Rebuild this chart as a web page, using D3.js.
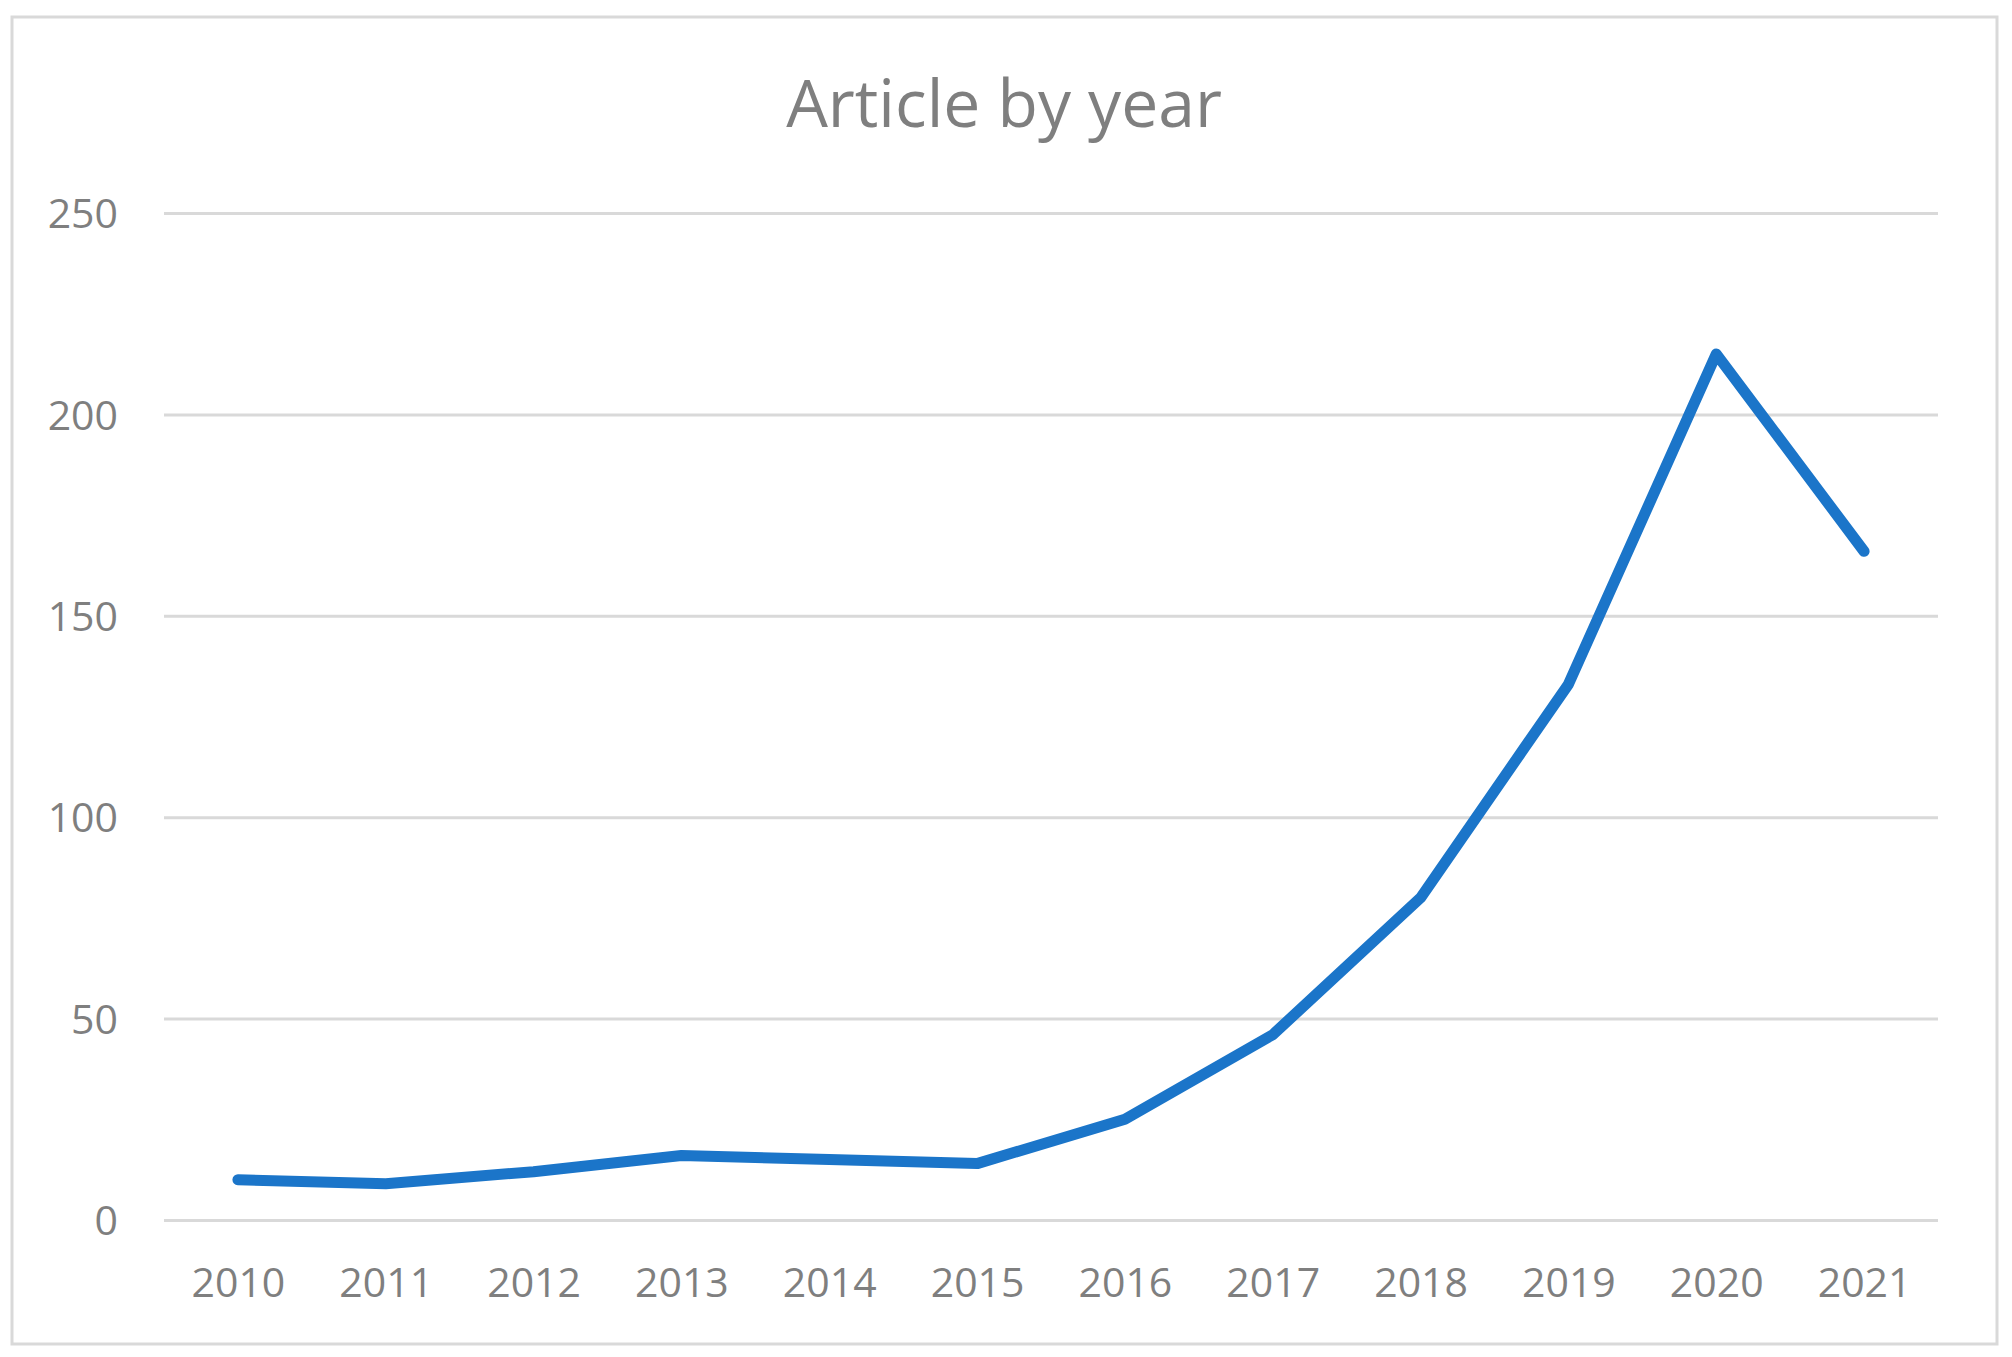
<!DOCTYPE html>
<html lang="en">
<head>
    <title>Article by year</title>
    <script src="https://d3js.org/d3.v7.min.js" charset="utf-8"></script>
    <style>
    body {
        margin: 0;
        background: #fff;
    }
    text {
        font-family: "Open Sans", "Noto Sans", sans-serif;
        fill: #7f7f7f;
    }
    .grid line {
        stroke: #d9d9d9;
        stroke-width: 3;
    }
    </style>
</head>
<body>
    <script>

    // data
    var years = ["2010", "2011", "2012", "2013", "2014", "2015",
                 "2016", "2017", "2018", "2019", "2020", "2021"];
    var articles = [10, 9, 12, 16, 15, 14, 25, 46, 80, 133, 215, 166];
    var yTicks = [0, 50, 100, 150, 200, 250];
    var title = "Article by year";

    var width = 2012,
        height = 1357;

    var margin = {left: 164, right: 74, top: 213, bottom: 137};
    var plotW = width - margin.left - margin.right,
        plotH = height - margin.top - margin.bottom;

    var svg = d3.select("body")
        .append("svg")
        .attr("width", width)
        .attr("height", height);

    // outer frame
    svg.append("rect")
        .attr("x", 12)
        .attr("y", 17)
        .attr("width", 1985)
        .attr("height", 1327)
        .attr("fill", "#fff")
        .attr("stroke", "#d9d9d9")
        .attr("stroke-width", 3);

    svg.append("text")
        .attr("x", 1004)
        .attr("y", 127)
        .attr("text-anchor", "middle")
        .style("font-size", "66px")
        .text(title);

    var g = svg.append("g")
        .attr("transform", "translate(" + margin.left + "," + margin.top + ")");

    var x = d3.scalePoint()
        .domain(years)
        .range([0, plotW])
        .padding(0.5);

    var y = d3.scaleLinear()
        .domain([0, 250])
        .range([plotH, 0]);

    // gridlines + y labels
    var yAxis = g.append("g")
        .attr("class", "grid")
        .call(d3.axisLeft(y)
            .tickValues(yTicks)
            .tickSize(-plotW)
            .tickPadding(46));
    yAxis.select(".domain").remove();
    yAxis.selectAll("text")
        .attr("dy", "0.36em")
        .style("font-size", "41px")
        .attr("fill", "#7f7f7f");

    // x labels
    var xAxis = g.append("g")
        .attr("transform", "translate(0," + plotH + ")")
        .call(d3.axisBottom(x).tickSize(0));
    xAxis.select(".domain").remove();
    xAxis.selectAll("text")
        .attr("y", 77)
        .attr("dy", null)
        .style("font-size", "41px")
        .attr("fill", "#7f7f7f");

    var line = d3.line()
        .x(function(d, i) { return x(years[i]); })
        .y(function(d) { return y(d); });

    g.append("path")
        .datum(articles)
        .attr("d", line)
        .attr("fill", "none")
        .attr("stroke", "#1b75c9")
        .attr("stroke-width", 11)
        .attr("stroke-linecap", "round")
        .attr("stroke-linejoin", "round");

    </script>
</body>
</html>
